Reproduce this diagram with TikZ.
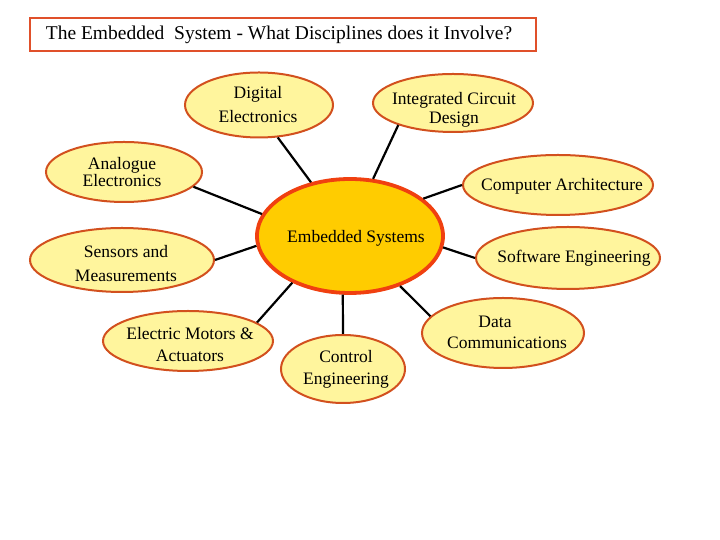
\documentclass[tikz,border=0pt]{standalone}
\usepackage{fontspec}
\setmainfont{Liberation Serif}
\usetikzlibrary{shapes.geometric}
\definecolor{paleyel}{HTML}{FFF59D}
\definecolor{ringbrown}{HTML}{D2501E}
\definecolor{coreyel}{HTML}{FFCC00}
\definecolor{corered}{HTML}{F04010}
\definecolor{titlered}{HTML}{E0502A}
\tikzset{
  topic/.style={ellipse, draw=ringbrown, fill=paleyel, line width=2pt, inner sep=0pt},
  core/.style={ellipse, draw=corered, fill=coreyel, line width=3.8pt, inner sep=0pt},
  lbl/.style={align=center, inner sep=0pt, font=\fontsize{17.5}{22}\selectfont},
  link/.style={draw=black, line width=2.2pt},
}
\begin{document}
\begin{tikzpicture}[x=1pt,y=1pt]
\useasboundingbox (0,0) rectangle (720,540);
% title
\node[draw=titlered, line width=2.8pt, minimum width=506pt, minimum height=33pt, inner sep=0pt] (title) at (283,505.5) {};
\node[inner sep=0pt, font=\fontsize{19.5}{22}\selectfont] (titletext) at (279,505) {The Embedded\ \ System - What Disciplines does it Involve?};
% ellipses
\node[topic, minimum width=148pt, minimum height=65pt] (de) at (259,435) {};
\node[topic, minimum width=160pt, minimum height=58pt] (icd) at (453,437) {};
\node[topic, minimum width=156pt, minimum height=60pt] (ae) at (124,368) {};
\node[topic, minimum width=190pt, minimum height=60pt] (ca) at (558,355) {};
\node[core, minimum width=186pt, minimum height=114pt] (es) at (350,304) {};
\node[topic, minimum width=184pt, minimum height=64pt] (sm) at (122,280) {};
\node[topic, minimum width=184pt, minimum height=62pt] (se) at (568,282) {};
\node[topic, minimum width=162pt, minimum height=70pt] (dc) at (503,207) {};
\node[topic, minimum width=170pt, minimum height=60pt] (em) at (188,199) {};
\node[topic, minimum width=124pt, minimum height=68pt] (ce) at (343,171) {};
% labels
\node[lbl, font=\fontsize{17.5}{24}\selectfont] (det) at (258,435) {Digital\\Electronics};
\node[lbl, font=\fontsize{17.5}{19}\selectfont] (icdt) at (454,430) {Integrated Circuit\\Design};
\node[lbl, font=\fontsize{17.5}{15}\selectfont] (aet) at (122,368) {Analogue\\Electronics};
\node[lbl] (cat) at (562,354) {Computer Architecture};
\node[lbl] (est) at (356,302) {Embedded Systems};
\node[lbl, font=\fontsize{17.5}{24}\selectfont] (smt) at (126,276) {Sensors and\\Measurements};
\node[lbl] (set) at (574,282) {Software Engineering};
\node[lbl] (dct1) at (495,218) {Data};
\node[lbl] (dct2) at (507,197) {Communications};
\node[lbl] (emt) at (190,195) {Electric Motors \&\\Actuators};
\node[lbl] (cet) at (346,171) {Control\\Engineering};
% connectors
\draw[link] (de.-60) -- (es.126.7);
\draw[link] (icd.202.7) -- (es.68.9);
\draw[link] (ae.-12) -- (es.166);
\draw[link] (ca.180) -- (es.27);
\draw[link] (sm.0) -- (es.186.7);
\draw[link] (se.180) -- (es.-7);
\draw[link] (dc.167) -- (es.-45.6);
\draw[link] (em.15) -- (es.219.5);
\draw[link] (ce.90) -- (es.263);
\end{tikzpicture}
\end{document}
